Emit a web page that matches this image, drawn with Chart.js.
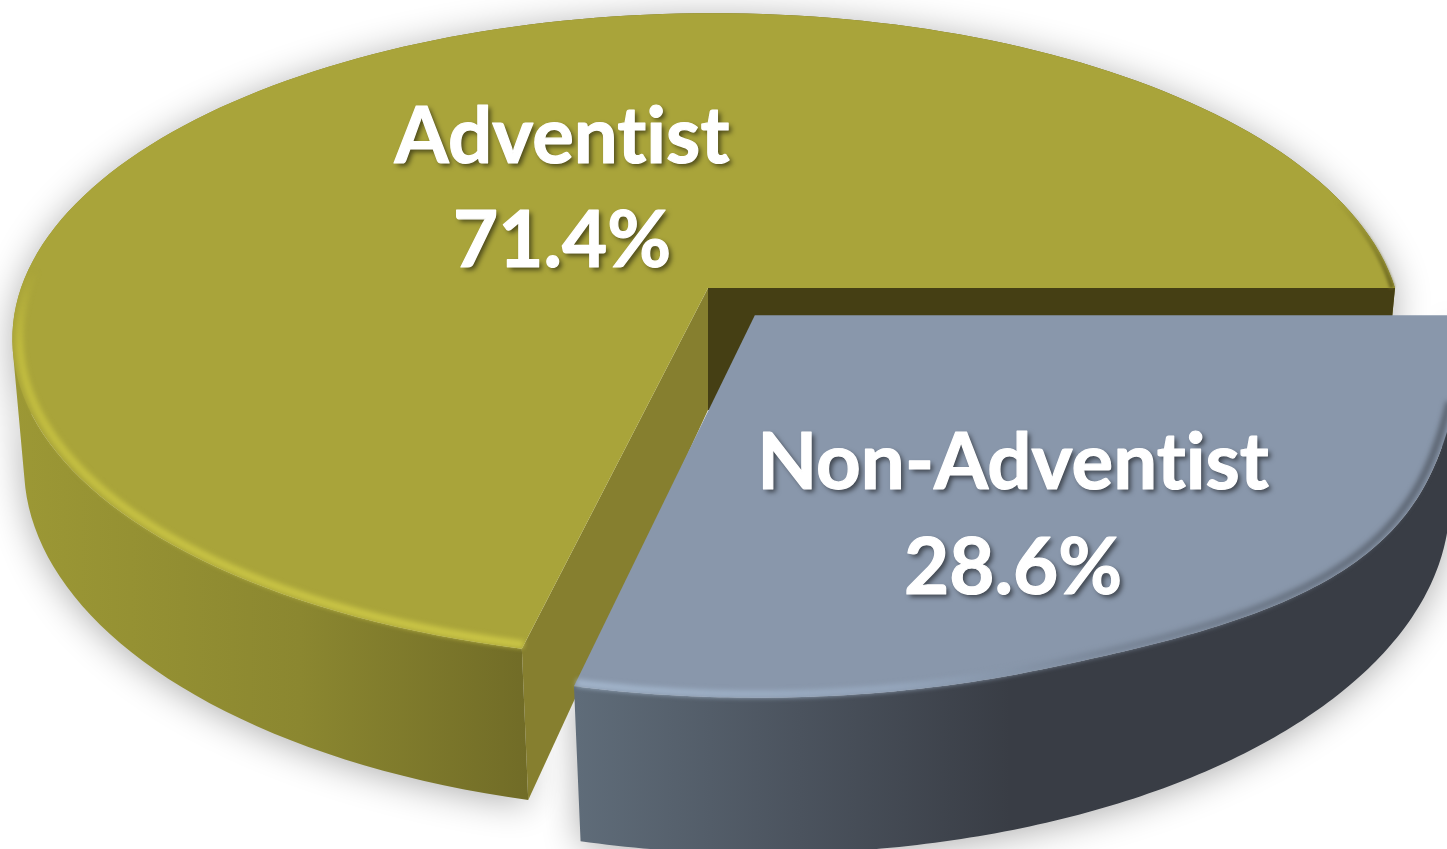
<!DOCTYPE html>
<html>
<head>
<meta charset="utf-8">
<title>Adventist share</title>
<script src="https://cdn.jsdelivr.net/npm/chart.js@4/dist/chart.umd.js"></script>
<style>
    html, body { margin: 0; padding: 0; background: #fff; overflow: hidden; }
    #wrap { width: 1447px; height: 849px; }
    canvas { display: block; }
</style>
</head>
<body>
<div id="wrap"><canvas id="pie" width="1447" height="849"></canvas></div>
<script>
// Chart values
const categories = ["Adventist", "Non-Adventist"];
const shares = [71.4, 28.6];
const sliceOffsets = [0, 152];
const topColors = ["#a9a43a", "#8997ab"];

// Perspective of the top and bottom discs of the pie
const TOP_PLANE = { x0: 708, y0: 288, a: 687, b: 316, p: -0.15, s: -5 };
const BOTTOM_PLANE = { x0: 708, y0: 410, a: 675, b: 337, p: -0.162, s: 0 };

// Look of each slice, same order as categories. Rim angles are in degrees as
// the arcs report them: the second slice runs from 360 on because of the rotation
const sliceLooks = [
    {
        wall: [[13, "#9c9835"], [300, "#8b8730"], [527, "#716c27"]],
        rim: { axis: "y", stops: [[270, "rgba(195,190,64,0)"], [350, "#c0bb3f"], [650, "#cac546"]] },
        rimFrom: 103, rimTo: 200, rimWidth: 8, rimInset: 0.99, bulge: 0,
        edge: { from: 335, to: 360, stops: [[200, "rgba(110,105,34,0)"], [288, "#6f6a22"]] },
        label: { x: 562, y1: 163, y2: 267 },
    },
    {
        wall: [[577, "#5f6c79"], [800, "#4b535e"], [1010, "#393d45"], [1447, "#393d45"]],
        rim: { axis: "x", stops: [[577, "#a3b6cc"], [900, "#95a6bc"], [1100, "#7a8799"], [1447, "#5c6572"]] },
        rimFrom: 375, rimTo: 462.9, rimWidth: 7, rimInset: 0.992, bulge: 0.03,
        label: { x: 1013, y1: 489, y2: 594 },
    },
];

const project = (plane, u, v) => {
    const w = 1 + plane.p * v;
    return [plane.x0 + (plane.a * u + plane.s * v) / w, plane.y0 + plane.b * v / w];
};

const lineGradient = (ctx, stops, axis) => {
    const first = stops[0][0];
    const last = stops[stops.length - 1][0];
    const g = axis === "y"
        ? ctx.createLinearGradient(0, first, 0, last)
        : ctx.createLinearGradient(first, 0, last, 0);
    stops.forEach(([p, c]) => g.addColorStop((p - first) / (last - first), c));
    return g;
};

const tracePath = (ctx, pts) => {
    ctx.beginPath();
    pts.forEach(([x, y], i) => (i ? ctx.lineTo(x, y) : ctx.moveTo(x, y)));
};

// One quad per step, all wound the same way so the fill is their union
function traceWall(ctx, topRim, bottomRim) {
    ctx.beginPath();
    for (let i = 0; i < topRim.length - 1; i++) {
        const quad = [topRim[i], topRim[i + 1], bottomRim[i + 1], bottomRim[i]];
        let area = 0;
        quad.forEach(([x, y], k) => {
            const [nx, ny] = quad[(k + 1) % 4];
            area += x * ny - nx * y;
        });
        if (area < 0) quad.reverse();
        quad.forEach(([x, y], k) => (k ? ctx.lineTo(x, y) : ctx.moveTo(x, y)));
        ctx.closePath();
    }
}

// Arc center in disc units, includes the explode offset from the arc options
function arcCenter(arc) {
    const mid = (arc.startAngle + arc.endAngle) / 2;
    const off = (arc.options.offset || 0) / 4 / arc.outerRadius;
    return [Math.cos(mid) * off, Math.sin(mid) * off];
}

// The near slice's top rim swells a little around its lower right
function bulgeAt(plane, arc, look, t) {
    if (plane !== TOP_PLANE) return 0;
    const frac = (t - arc.startAngle) / (arc.endAngle - arc.startAngle);
    if (frac < 0.15 || frac > 0.68) return 0;
    return look.bulge * Math.sin(Math.PI * (frac - 0.15) / 0.53) ** 2;
}

function rimPoints(plane, arc, look, from, to, r = 1) {
    const [cu, cv] = arcCenter(arc);
    const pts = [];
    const steps = 160;
    for (let i = 0; i <= steps; i++) {
        const t = from + (to - from) * i / steps;
        const rr = r + bulgeAt(plane, arc, look, t);
        pts.push(project(plane, cu + rr * Math.cos(t), cv + rr * Math.sin(t)));
    }
    return pts;
}

class Pie3DController extends Chart.PieController {
    static id = "pie3d";

    draw() {
        const ctx = this.chart.ctx;
        const arcs = this._cachedMeta.data;

        // Soft floor shadow, shapes are drawn off canvas so only the blur lands here
        arcs.forEach((arc, i) => {
            ctx.save();
            ctx.shadowColor = "rgba(0,0,0,0.32)";
            ctx.shadowBlur = 36;
            ctx.shadowOffsetX = 3000;
            ctx.shadowOffsetY = 4;
            ctx.fillStyle = "#000";
            ctx.translate(-3000, 0);
            traceWall(ctx,
                rimPoints(TOP_PLANE, arc, sliceLooks[i], arc.startAngle, arc.endAngle),
                rimPoints(BOTTOM_PLANE, arc, sliceLooks[i], arc.startAngle, arc.endAngle));
            ctx.fill();
            ctx.restore();
        });

        arcs.forEach((arc, i) => this.drawSlice(ctx, arc, sliceLooks[i], i === 0));
    }

    drawSlice(ctx, arc, look, showCuts) {
        const { startAngle, endAngle } = arc;
        const topRim = rimPoints(TOP_PLANE, arc, look, startAngle, endAngle);
        const bottomRim = rimPoints(BOTTOM_PLANE, arc, look, startAngle, endAngle);
        const [cu, cv] = arcCenter(arc);
        const topApex = project(TOP_PLANE, cu, cv);
        const bottomApex = project(BOTTOM_PLANE, cu, cv);
        const deg = Math.PI / 180;

        // Outer wall
        traceWall(ctx, topRim, bottomRim);
        ctx.fillStyle = lineGradient(ctx, look.wall, "x");
        ctx.fill();

        if (showCuts) {
            // Back face, seen in the gap left by the exploded slice
            tracePath(ctx, [topApex, topRim[topRim.length - 1], bottomRim[bottomRim.length - 1], bottomApex]);
            ctx.closePath();
            ctx.fillStyle = "#453f14";
            ctx.fill();
            // Cut face towards the viewer
            tracePath(ctx, [topApex, topRim[0], bottomRim[0], bottomApex]);
            ctx.closePath();
            ctx.fillStyle = "#867f2f";
            ctx.fill();
        }

        // Top face
        tracePath(ctx, [topApex].concat(topRim));
        ctx.closePath();
        ctx.fillStyle = arc.options.backgroundColor;
        ctx.fill();

        // Bevel highlight along the front of the rim
        ctx.save();
        ctx.filter = "blur(2.5px)";
        ctx.lineWidth = look.rimWidth;
        ctx.strokeStyle = lineGradient(ctx, look.rim.stops, look.rim.axis);
        tracePath(ctx, rimPoints(TOP_PLANE, arc, look, look.rimFrom * deg, look.rimTo * deg, look.rimInset));
        ctx.stroke();
        if (look.edge) {
            ctx.filter = "blur(1.5px)";
            ctx.lineWidth = 5;
            ctx.strokeStyle = lineGradient(ctx, look.edge.stops, "y");
            tracePath(ctx, rimPoints(TOP_PLANE, arc, look, look.edge.from * deg, look.edge.to * deg, 0.996));
            ctx.stroke();
        }
        ctx.restore();
    }
}
Chart.register(Pie3DController);

// Category and percent text on each slice
const sliceLabels = {
    id: "sliceLabels",
    afterDatasetsDraw(chart) {
        const ctx = chart.ctx;
        ctx.save();
        ctx.textAlign = "center";
        ctx.fillStyle = "#fff";
        ctx.strokeStyle = "#fff";
        ctx.lineWidth = 1.2;
        ctx.lineJoin = "round";
        ctx.font = "bold 78px Lato";
        ctx.letterSpacing = "0.01px"; // keeps the "ti" pair from turning into a ligature
        categories.forEach((name, i) => {
            const { x, y1, y2 } = sliceLooks[i].label;
            const pct = shares[i].toFixed(1) + "%";
            ctx.shadowColor = "rgba(0,0,0,0.55)";
            ctx.shadowBlur = 5;
            ctx.shadowOffsetX = 3;
            ctx.shadowOffsetY = 3;
            ctx.fillText(name, x, y1);
            ctx.fillText(pct, x, y2);
            ctx.shadowColor = "transparent";
            ctx.strokeText(name, x, y1);
            ctx.strokeText(pct, x, y2);
        });
        ctx.restore();
    },
};

new Chart(document.getElementById("pie"), {
    type: "pie3d",
    data: {
        labels: categories,
        datasets: [{
            data: shares,
            backgroundColor: topColors,
            offset: sliceOffsets,
            borderWidth: 0,
        }],
    },
    options: {
        responsive: false,
        maintainAspectRatio: false,
        animation: false,
        events: [],
        rotation: 90 + shares[1] * 3.6,
        plugins: { legend: { display: false }, tooltip: { enabled: false } },
    },
    plugins: [sliceLabels],
});
</script>
</body>
</html>
